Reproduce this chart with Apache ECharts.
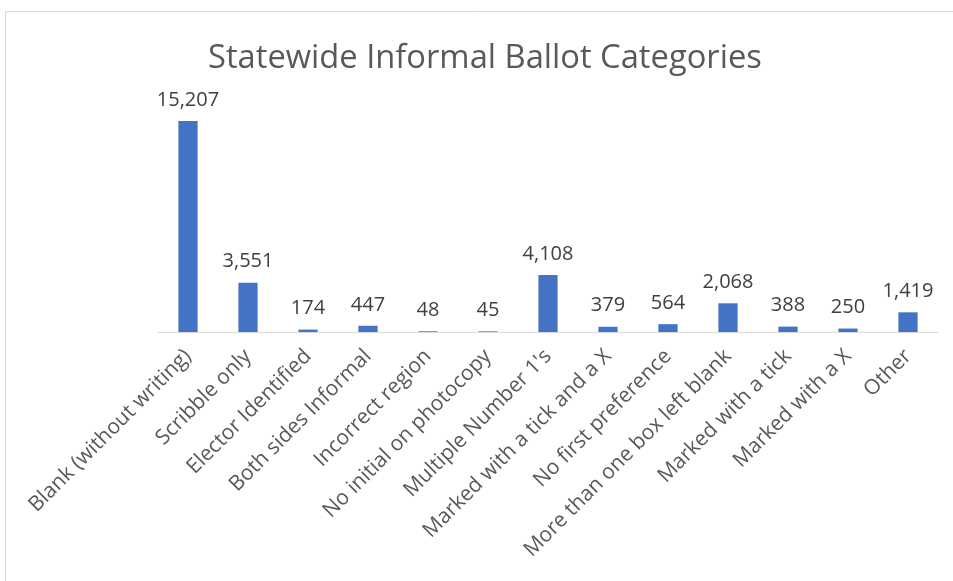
<!DOCTYPE html>
<html>
<head>
<meta charset="utf-8">
<script src="https://cdn.jsdelivr.net/npm/echarts@6/dist/echarts.min.js"></script>
<style>
  html, body { margin: 0; padding: 0; background: #fff; }
  #main { width: 953px; height: 581px; }
</style>
</head>
<body>
<div id="main"></div>
<script>
  var categories = [
    'Blank (without writing)',
    'Scribble only',
    'Elector Identified',
    'Both sides Informal',
    'Incorrect region',
    'No initial on photocopy',
    "Multiple Number 1's",
    'Marked with a tick and a X',
    'No first preference',
    'More than one box left blank',
    'Marked with a tick',
    'Marked with a X',
    'Other'
  ]
  var ballots = [15207, 3551, 174, 447, 48, 45, 4108, 379, 564, 2068, 388, 250, 1419]

  var chart = echarts.init(document.getElementById('main'))
  var option = {
    backgroundColor: '#fff',
    animation: false,
    textStyle: { fontFamily: 'Open Sans' },
    title: {
      text: 'Statewide Informal Ballot Categories',
      left: 203,
      top: 37,
      textStyle: { fontSize: 32.7, fontWeight: 'normal', color: '#595959', fontFamily: 'Open Sans' }
    },
    graphic: [
      {
        type: 'rect',
        shape: { x: 5.5, y: 11.5, width: 1000, height: 700 },
        style: { fill: 'none', stroke: '#d9d9d9', lineWidth: 1 },
        silent: true
      }
    ],
    grid: { left: 158, right: 15, top: 110, bottom: 249 },
    xAxis: {
      type: 'category',
      data: categories,
      axisLine: { lineStyle: { color: '#d9d9d9', width: 1 } },
      axisTick: { show: false },
      axisLabel: {
        interval: 0,
        rotate: 45,
        fontSize: 21,
        color: '#595959',
        margin: 21
      }
    },
    yAxis: {
      type: 'value',
      min: 0,
      max: 16000,
      show: false,
      splitLine: { show: false }
    },
    series: [
      {
        type: 'bar',
        data: ballots,
        barWidth: '32%',
        itemStyle: { color: '#4472c4' },
        label: {
          show: true,
          position: 'top',
          distance: 11,
          fontSize: 20,
          color: '#404040',
          formatter: function (p) {
            return p.value.toLocaleString('en-US')
          }
        }
      }
    ]
  }
  chart.setOption(option)
</script>
</body>
</html>
